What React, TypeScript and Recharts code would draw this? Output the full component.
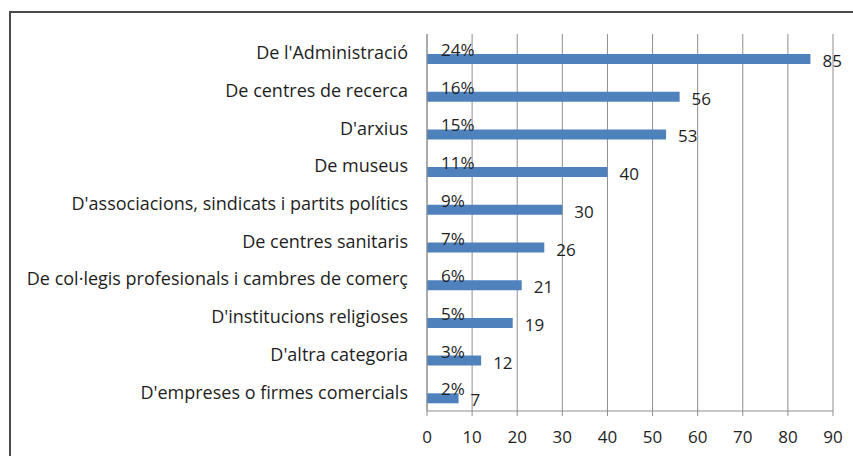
import { Bar, BarChart, CartesianGrid, LabelList, XAxis, YAxis } from 'recharts'

const categories = [
    "De l'Administració",
    'De centres de recerca',
    "D'arxius",
    'De museus',
    "D'associacions, sindicats i partits polítics",
    'De centres sanitaris',
    "De col·legis profesionals i cambres de comerç",
    "D'institucions religioses",
    "D'altra categoria",
    "D'empreses o firmes comercials",
]
const values = [85, 56, 53, 40, 30, 26, 21, 19, 12, 7]
const percents = [24, 16, 15, 11, 9, 7, 6, 5, 3, 2]
const xTicks = [0, 10, 20, 30, 40, 50, 60, 70, 80, 90]

const data = categories.map((name, i) => ({ name, value: values[i], pct: percents[i] }))

const font = '"Open Sans", Lato, sans-serif'
const textColor = '#1e1e1e'
const gridColor = '#8e8e8e'
const barColor = '#4f81bd'

export default function App() {
    return (
        <div style={{
            position: 'absolute', left: 9, top: 11, width: 860, height: 460,
            borderLeft: '2px solid #4a4a4a', borderTop: '2px solid #4a4a4a',
            background: '#fff',
        }}>
            <BarChart width={842} height={443} data={data} layout="vertical"
                margin={{ top: 21, right: 20, left: 0, bottom: 5 }}
                barSize={10} barGap={2}
                style={{ fontFamily: font }}>
                <CartesianGrid horizontal={false} stroke={gridColor} />
                <XAxis type="number" domain={[0, 90]} ticks={xTicks} interval={0}
                    height={40} stroke={gridColor} tickSize={5} tickMargin={15}
                    tick={{ fill: textColor, fontSize: 17 }} />
                <YAxis type="category" dataKey="name" width={416} stroke={gridColor}
                    tickLine={false} tickSize={0} tickMargin={19} interval={0}
                    tick={{ fill: textColor, fontSize: 18 }} />
                {/* percentage series: kept invisible, only its labels show */}
                <Bar dataKey="pct" fill="none" isAnimationActive={false}>
                    <LabelList dataKey="pct" position="insideLeft" offset={14} dy={3}
                        formatter={(v: any) => `${v}%`}
                        style={{ fill: textColor, fontSize: 17 }} />
                </Bar>
                <Bar dataKey="value" fill={barColor} isAnimationActive={false}>
                    <LabelList dataKey="value" position="right" offset={12} dy={2}
                        style={{ fill: textColor, fontSize: 17 }} />
                </Bar>
            </BarChart>
        </div>
    )
}
